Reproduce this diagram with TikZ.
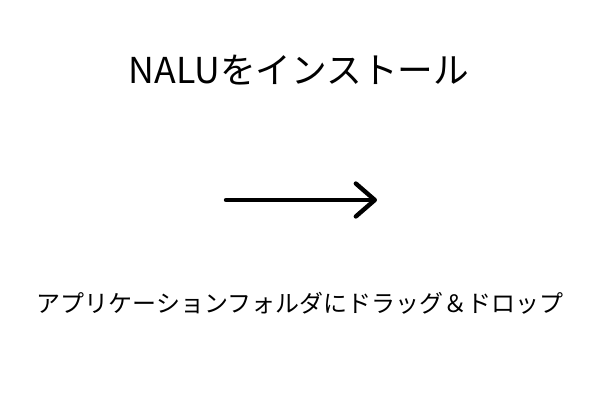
\documentclass[tikz,border=0pt]{standalone}
\usepackage{fontspec}
\setmainfont{Noto Sans CJK JP}
\usetikzlibrary{arrows.meta}
\begin{document}
\begin{tikzpicture}[x=0.02cm, y=0.02cm, >={Straight Barb[length=0.38cm, width=0.66cm, round]}]
\useasboundingbox (0,0) rectangle (600,400);
\node (title) at (299,330) {\fontsize{20.3}{24}\selectfont NALUをインストール};
\coordinate (arrS) at (226,200);
\coordinate (arrE) at (377,200);
\draw [->, line width=2.5pt, line cap=round](arrS)--(arrE);
\node (hint) at (300,97) {\fontsize{13.65}{16}\selectfont アプリケーションフォルダにドラッグ＆ドロップ};
\end{tikzpicture}
\end{document}
